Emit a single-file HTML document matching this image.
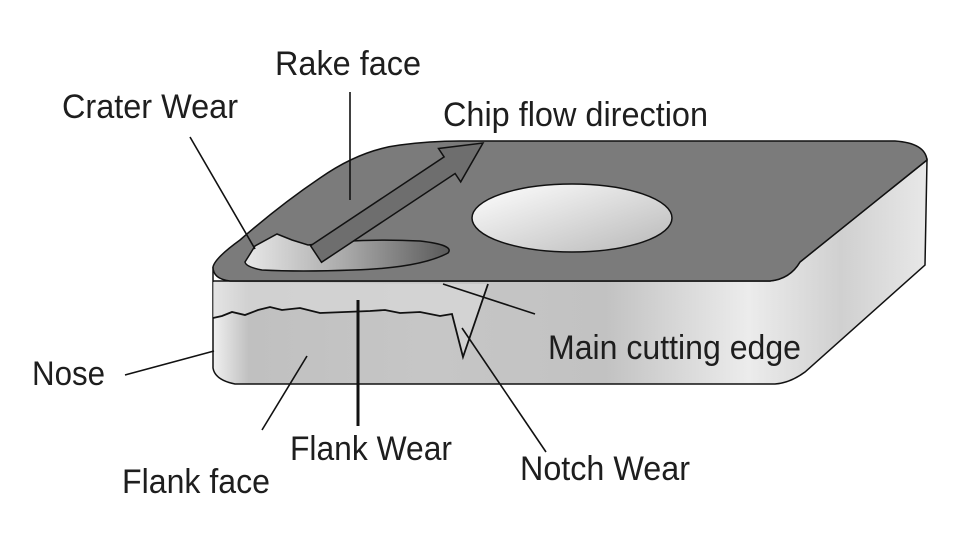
<!DOCTYPE html>
<html><head><meta charset="utf-8"><style>
html,body{margin:0;padding:0;background:#fff;}
svg{display:block;}
text{font-family:"Liberation Sans",sans-serif;font-size:34px;fill:#1e1e1e;}
</style></head><body>
<svg width="960" height="540" viewBox="0 0 960 540" xmlns="http://www.w3.org/2000/svg">
<defs>
<linearGradient id="side" x1="0" x2="1" y1="0" y2="0">
<stop offset="0" stop-color="#f0f0f0"/>
<stop offset="0.05" stop-color="#c0c0c0"/>
<stop offset="0.3" stop-color="#c6c6c6"/>
<stop offset="0.55" stop-color="#c2c2c2"/>
<stop offset="0.75" stop-color="#ececec"/>
<stop offset="0.88" stop-color="#d0d0d0"/>
<stop offset="1" stop-color="#e8e8e8"/>
</linearGradient>
<linearGradient id="ell" x1="0" y1="0" x2="1" y2="1">
<stop offset="0" stop-color="#ffffff"/>
<stop offset="1" stop-color="#b8b8b8"/>
</linearGradient>
<linearGradient id="crat" x1="0" x2="1" y1="0" y2="0">
<stop offset="0" stop-color="#e8e8e8"/>
<stop offset="0.5" stop-color="#a8a8a8"/>
<stop offset="1" stop-color="#5a5a5a"/>
</linearGradient>
</defs>
<path d="M213,267 L213,368 Q215,380 235,384 L775,384 Q790,383 805,372 L925,265 L927,160 L800,262 Q790,279 770,281 L213,281 Z" fill="url(#side)" stroke="#111" stroke-width="1.5"/>
<path d="M213,267 Q215,258 240,240 Q280,205 320,178 Q360,150 400,145 Q430,141 460,141 L895,141 Q925,143 927,160 L800,262 Q790,279 770,281 L230,281 Q213,279 213,267 Z" fill="#7b7b7b" stroke="#111" stroke-width="1.5"/>
<ellipse cx="572" cy="218" rx="100" ry="34" fill="url(#ell)" stroke="#111" stroke-width="1.5"/>
<path d="M245,262 L255,246 L277,234 L292,240 L308,245 Q360,238 420,241 Q455,245 448,253 Q420,268 353,270 Q300,272 262,270 Q246,267 245,262 Z" fill="url(#crat)" stroke="#111" stroke-width="1.5"/>
<path d="M310.5,245.7 L444.1,156.9 L438.5,148.5 L483,143 L460.7,181.9 L455.1,173.5 L321.5,262.3 Z" fill="#6e6e6e" stroke="#111" stroke-width="1.5"/>
<path d="M213,282 L213,318 L222,316 L232,312 L245,315 L258,310 L270,307 L282,310 L300,308 L320,313 L345,312 L370,311 L385,310 L400,313 L420,312 L440,316 L452,314 L463,357 L488,284 Z" fill="#dcdcdc" opacity="0.6"/>
<path d="M213,318 L222,316 L232,312 L245,315 L258,310 L270,307 L282,310 L300,308 L320,313 L345,312 L370,311 L385,310 L400,313 L420,312 L440,316 L452,314 L463,357 L488,284" fill="none" stroke="#111" stroke-width="1.8"/>
<g stroke="#111" stroke-width="1.6" fill="none">
<line x1="190" y1="137" x2="255" y2="249"/>
<line x1="350" y1="92" x2="350" y2="200"/>
<line x1="443" y1="284" x2="535" y2="314"/>
<line x1="125" y1="375" x2="214" y2="351"/>
<line x1="262" y1="430" x2="307" y2="356"/>
<line x1="358" y1="300" x2="358" y2="426" stroke-width="3"/>
<line x1="462" y1="328" x2="546" y2="452"/>
</g>
<text x="275" y="75" textLength="146" lengthAdjust="spacingAndGlyphs" fill="#444">Rake face</text>
<text x="62" y="118" textLength="176" lengthAdjust="spacingAndGlyphs">Crater Wear</text>
<text x="443" y="126" textLength="265" lengthAdjust="spacingAndGlyphs">Chip flow direction</text>
<text x="548" y="359" textLength="253" lengthAdjust="spacingAndGlyphs">Main cutting edge</text>
<text x="32" y="385" textLength="73" lengthAdjust="spacingAndGlyphs" fill="#444">Nose</text>
<text x="290" y="460" textLength="162" lengthAdjust="spacingAndGlyphs">Flank Wear</text>
<text x="122" y="493" textLength="148" lengthAdjust="spacingAndGlyphs" fill="#555">Flank face</text>
<text x="520" y="480" textLength="170" lengthAdjust="spacingAndGlyphs">Notch Wear</text>
</svg>
</body></html>
